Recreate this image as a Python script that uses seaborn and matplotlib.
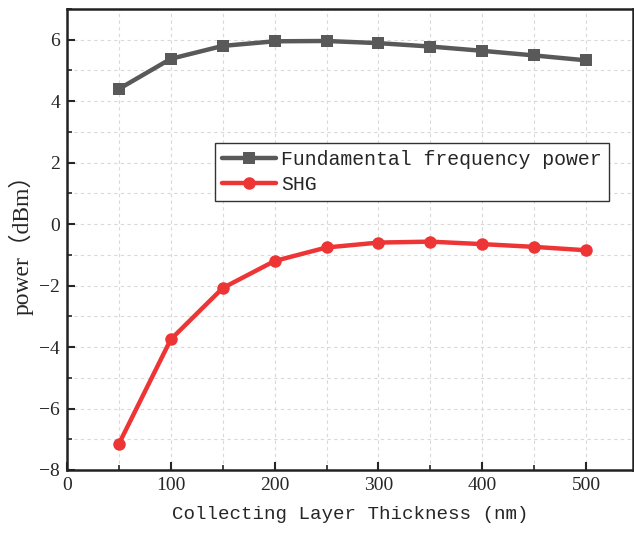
import matplotlib
matplotlib.use("Agg")
import matplotlib.pyplot as plt
from matplotlib.ticker import MultipleLocator
import seaborn as sns
import pandas as pd

thickness = [50, 100, 150, 200, 250, 300, 350, 400, 450, 500]
fundamental = [4.40, 5.38, 5.80, 5.95, 5.96, 5.89, 5.78, 5.64, 5.49, 5.33]
shg = [-7.15, -3.75, -2.08, -1.20, -0.76, -0.60, -0.57, -0.65, -0.74, -0.85]
series_names = ["Fundamental frequency power", "SHG"]

df = pd.DataFrame({
    "x": thickness * 2,
    "y": fundamental + shg,
    "series": [series_names[0]] * len(thickness) + [series_names[1]] * len(thickness),
})

sns.set_style("ticks")
plt.rcParams["font.family"] = ["Liberation Serif", "Noto Sans CJK SC"]
mono = ["Liberation Mono", "Noto Sans CJK SC"]
serif = ["Liberation Serif", "Noto Sans CJK SC"]

fig = plt.figure(figsize=(6.34, 5.34), dpi=100)
ax = fig.add_axes([0.1057, 0.1199, 0.8923, 0.8632])

palette = {series_names[0]: "#595959", series_names[1]: "#ee3535"}
markers = {series_names[0]: "s", series_names[1]: "o"}
sns.lineplot(data=df, x="x", y="y", hue="series", style="series",
             palette=palette, markers=markers, dashes=False,
             linewidth=3.2, markersize=9, markeredgewidth=0, ax=ax)

ax.set_xlim(0, 545)
ax.set_ylim(-8, 7)
ax.xaxis.set_major_locator(MultipleLocator(100))
ax.xaxis.set_minor_locator(MultipleLocator(50))
ax.yaxis.set_major_locator(MultipleLocator(2))
ax.yaxis.set_minor_locator(MultipleLocator(1))
ax.grid(True, which="both", linestyle=(0, (3, 3)), color="#d9d9d9", linewidth=0.8)
ax.set_axisbelow(True)
ax.tick_params(which="major", direction="in", length=6, width=1.5, labelsize=14, pad=5)
ax.tick_params(which="minor", direction="in", length=3.5, width=1.2)
ax.tick_params(top=False, right=False)
for s in ["left", "bottom", "top", "right"]:
    ax.spines[s].set_linewidth(1.8)
    ax.spines[s].set_color("#222222")

ax.set_xlabel("Collecting Layer Thickness (nm)", family=mono, fontsize=13.8, labelpad=9)
ax.set_ylabel("power（dBm）", family=serif, fontsize=17, labelpad=4)

leg = ax.legend(loc="upper left", bbox_to_anchor=(0.2615, 0.7093), prop={"family": mono, "size": 14.3},
                frameon=True, fancybox=False, edgecolor="#333333", framealpha=1,
                handlelength=2.7, borderpad=0.35, labelspacing=0.3, handletextpad=0.3,
                borderaxespad=0)
leg.get_frame().set_linewidth(1.0)

fig.savefig("out.png", dpi=100)
